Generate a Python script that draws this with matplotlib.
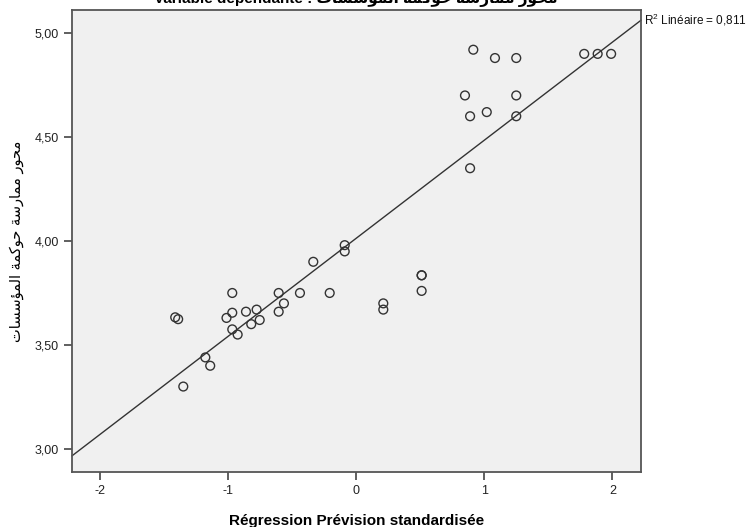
import numpy as np
import matplotlib
matplotlib.use('Agg')
import matplotlib.pyplot as plt

plt.rcParams['font.family'] = ['Liberation Sans', 'DejaVu Sans']
plt.rcParams['axes.unicode_minus'] = False
plt.rcParams['mathtext.fontset'] = 'custom'
plt.rcParams['mathtext.rm'] = 'Liberation Sans'

# standardized predicted value (x) vs dependent variable (y)
pred_std = [0.915, 1.084, 1.25, 1.78, 1.885, 1.99, 0.85, 1.25, 0.89, 1.02, 1.25, 0.89,
            -1.41, -1.387, -0.965, -0.965, -1.01, -0.965, -0.923, -0.858, -0.775, -0.751,
            -0.817, -0.603, -0.562, -0.603, -0.437, -0.333, -0.205, -0.088, -0.088,
            0.213, 0.213, 0.512, 0.512, 0.512, -1.175, -1.137, -1.347]
dep_var = [4.92, 4.88, 4.88, 4.90, 4.90, 4.90, 4.70, 4.70, 4.60, 4.62, 4.60, 4.35,
           3.633, 3.624, 3.75, 3.655, 3.63, 3.575, 3.55, 3.66, 3.67, 3.62,
           3.60, 3.75, 3.70, 3.66, 3.75, 3.90, 3.75, 3.98, 3.95,
           3.70, 3.67, 3.835, 3.835, 3.76, 3.44, 3.40, 3.30]
r2_label = 0.811
y_ticks = [3.0, 3.5, 4.0, 4.5, 5.0]
x_ticks = [-2, -1, 0, 1, 2]

ylabel_ar = 'محور ممارسة حوكمة المؤسسات'

# --- tiny arabic shaper (matplotlib does no shaping / bidi) ---
FORMS = {
    'ا': ('\uFE8D', '\uFE8E', None, None),
    'ت': ('\uFE95', '\uFE96', '\uFE97', '\uFE98'),
    'ة': ('\uFE93', '\uFE94', None, None),
    'ح': ('\uFEA1', '\uFEA2', '\uFEA3', '\uFEA4'),
    'ر': ('\uFEAD', '\uFEAE', None, None),
    'س': ('\uFEB1', '\uFEB2', '\uFEB3', '\uFEB4'),
    'ك': ('\uFED9', '\uFEDA', '\uFEDB', '\uFEDC'),
    'ل': ('\uFEDD', '\uFEDE', '\uFEDF', '\uFEE0'),
    'م': ('\uFEE1', '\uFEE2', '\uFEE3', '\uFEE4'),
    'و': ('\uFEED', '\uFEEE', None, None),
    'ؤ': ('\uFE85', '\uFE86', None, None),
}

def shape_ar(text):
    out = []
    for i, ch in enumerate(text):
        if ch not in FORMS:
            out.append(ch)
            continue
        prev = text[i - 1] if i > 0 else ''
        nxt = text[i + 1] if i + 1 < len(text) else ''
        join_prev = prev in FORMS and FORMS[prev][2] is not None
        join_next = nxt in FORMS and FORMS[ch][2] is not None
        iso, fin, ini, med = FORMS[ch]
        if join_prev and join_next:
            out.append(med)
        elif join_prev:
            out.append(fin)
        elif join_next:
            out.append(ini)
        else:
            out.append(iso)
    return ''.join(out)[::-1]

ar_shaped = shape_ar(ylabel_ar)

fig = plt.figure(figsize=(7.54, 5.27), dpi=100)
ax = fig.add_axes([72/754, 55/527, 569/754, 462/527])
ax.set_facecolor('#f0f0f0')

ax.set_xlim(-2.215, 2.223)
ax.set_ylim(2.889, 5.111)

ax.scatter(pred_std, dep_var, s=40, facecolors='none', edgecolors='#333333',
           linewidths=1.0, zorder=3)

slope, intercept = np.polyfit(pred_std, dep_var, 1)
xl = np.array(ax.get_xlim())
ax.plot(xl, intercept + slope * xl, color='#333333', lw=1.0, zorder=2, clip_on=False)

ax.annotate('R$^2$ Linéaire = ' + f'{r2_label:.3f}'.replace('.', ','),
            xy=(xl[1], intercept + slope * xl[1]), xytext=(2, 0), textcoords='offset points',
            ha='left', va='center', fontsize=8.5, color='#111111', annotation_clip=False)

ax.set_xticks(x_ticks)
ax.set_xticklabels([str(t) for t in x_ticks])
ax.set_yticks(y_ticks)
ax.set_yticklabels([f'{t:.2f}'.replace('.', ',') for t in y_ticks])
ax.tick_params(axis='both', direction='out', length=6, width=1.2, color='#444444',
               labelsize=9, labelcolor='#222222')

for sp in ax.spines.values():
    sp.set_color('#555555')
    sp.set_linewidth(1.3)

ax.set_xlabel('Régression Prévision standardisée', fontsize=11, fontweight='bold', labelpad=12)
fig.text(17/754, 1 - 241/527, ar_shaped, rotation=90, ha='center', va='center',
         fontsize=10.5, family=['DejaVu Sans'])

fig.text(356/754, 1 - 3/527, 'Variable dépendante : ' + ar_shaped, ha='center', va='baseline',
         fontsize=11, fontweight='bold', family=['Liberation Sans', 'DejaVu Sans'])

fig.savefig('out.png', dpi=100)
